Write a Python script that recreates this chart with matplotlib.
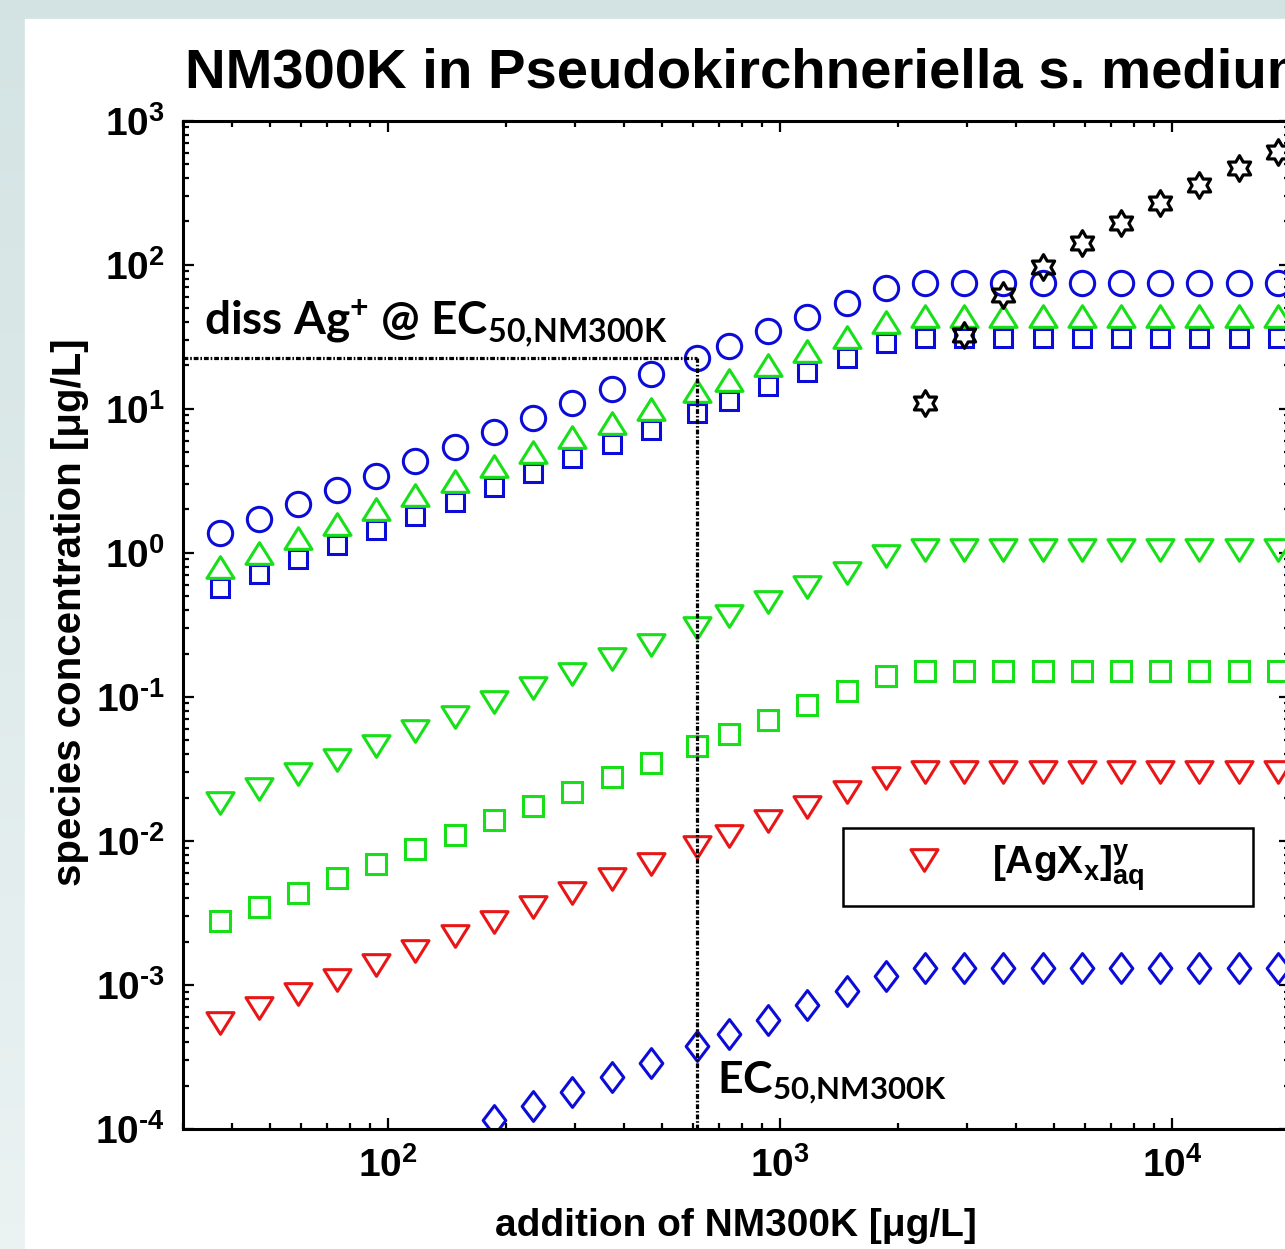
"""NM300K speciation in Pseudokirchneriella medium."""

import numpy as np
import matplotlib

matplotlib.use("Agg")
from matplotlib import pyplot as plt
from matplotlib.path import Path
from matplotlib.ticker import FuncFormatter

# NM300K added [ug/L]; the 13th point is the EC50
nm300k_added = [37.2, 46.8, 58.9, 74.1, 93.3, 117, 148, 186, 234, 295, 372, 468,
                615, 741, 933, 1175, 1479, 1862, 2344, 2951, 3715, 4677, 5888,
                7413, 9333, 11749, 14791, 18621]

ag_diss = [1.37, 1.73, 2.17, 2.74, 3.44, 4.34, 5.46, 6.87, 8.65, 10.9, 13.7, 17.3,
           22.7, 27.4, 34.4, 43.4, 54.6, 68.7, 74.6, 74.6, 74.6, 74.6, 74.6, 74.6,
           74.6, 74.6, 74.6, 74.6]
ag_tri_up = [0.796, 1.00, 1.26, 1.59, 2.00, 2.52, 3.17, 3.99, 5.02, 6.32, 7.96, 10.0,
             13.2, 15.9, 20.0, 25.2, 31.7, 39.9, 44.1, 44.1, 44.1, 44.1, 44.1, 44.1,
             44.1, 44.1, 44.1, 44.1]
ag_free = [0.569, 0.716, 0.902, 1.14, 1.43, 1.80, 2.26, 2.85, 3.59, 4.52, 5.69, 7.16,
           9.42, 11.4, 14.3, 18.0, 22.6, 28.5, 30.9, 30.9, 30.9, 30.9, 30.9, 30.9,
           30.9, 30.9, 30.9, 30.9]
green_tri_dn = [0.0183, 0.0230, 0.0290, 0.0365, 0.0459, 0.0578, 0.0728, 0.0916,
                0.115, 0.145, 0.183, 0.230, 0.303, 0.365, 0.459, 0.578, 0.728, 0.95,
                1.05, 1.05, 1.05, 1.05, 1.05, 1.05, 1.05, 1.05, 1.05, 1.05]
green_sq = [0.00277, 0.00348, 0.00438, 0.00552, 0.00695, 0.00875, 0.0110, 0.0139,
            0.0175, 0.0220, 0.0277, 0.0348, 0.0458, 0.0552, 0.0695, 0.0875, 0.110,
            0.139, 0.151, 0.151, 0.151, 0.151, 0.151, 0.151, 0.151, 0.151, 0.151,
            0.151]
agx_aq = [5.47e-4, 6.89e-4, 8.67e-4, 1.09e-3, 1.37e-3, 1.73e-3, 2.18e-3, 2.74e-3,
          3.45e-3, 4.35e-3, 5.47e-3, 6.89e-3, 9.06e-3, 0.0109, 0.0137, 0.0173,
          0.0218, 0.0274, 0.0303, 0.0303, 0.0303, 0.0303, 0.0303, 0.0303, 0.0303,
          0.0303, 0.0303, 0.0303]
nan = float("nan")
blue_dia = [nan, nan, nan, nan, nan, nan, nan, 1.15e-4, 1.44e-4, 1.81e-4, 2.28e-4,
            2.88e-4, 3.78e-4, 4.56e-4, 5.74e-4, 7.22e-4, 9.09e-4, 1.15e-3, 1.31e-3,
            1.31e-3, 1.31e-3, 1.31e-3, 1.31e-3, 1.31e-3, 1.31e-3, 1.31e-3, 1.31e-3,
            1.31e-3]
solid = [nan, nan, nan, nan, nan, nan, nan, nan, nan, nan, nan, nan, nan, nan, nan,
         nan, nan, nan, 11.0, 32.4, 61.6, 96.5, 142, 195, 268, 357, 469, 606]

EC50 = 615  # ug/L NM300K
DISS_AT_EC50 = 22.7  # ug/L dissolved Ag+

BLUE, GREEN, RED = "#0c0cd8", "#18e018", "#e81616"

plt.rcParams["font.family"] = ["Liberation Sans", "DejaVu Sans"]
plt.rcParams["font.weight"] = "bold"
plt.rcParams["mathtext.default"] = "regular"


def closed(verts):
    verts = list(verts) + [verts[0]]
    return Path(verts, closed=True)


def decade(v, pos):
    e = int(round(np.log10(v)))
    return r"$\mathdefault{10^{%s}}$" % str(e).replace("-", "\u2010")


tri_up = closed([(-1, -0.8), (1, -0.8), (0, 0.8)])
tri_dn = closed([(-1, 0.8), (1, 0.8), (0, -0.8)])
diamond = closed([(0, 1), (0.76, 0), (0, -1), (-0.76, 0)])
ang = np.deg2rad(90 + 30 * np.arange(12))
rad = np.where(np.arange(12) % 2 == 0, 1.0, 1 / np.sqrt(3))
hexagram = closed(list(zip(rad * np.cos(ang), rad * np.sin(ang))))

fig = plt.figure(figsize=(12.85, 12.49), dpi=100)

# screenshot background: pale frame with white panel
bg = fig.add_axes([0, 0, 1, 1], zorder=-10)
grad = np.linspace(0, 1, 256)[:, None, None]
top_c = np.array([0.83, 0.89, 0.89])
bot_c = np.array([0.92, 0.95, 0.95])
bg.imshow(top_c + grad * (bot_c - top_c), aspect="auto", extent=(0, 1, 0, 1))
bg.add_patch(plt.Rectangle((25 / 1285, 0), 1, (1249 - 19) / 1249, color="white"))
bg.set_xlim(0, 1)
bg.set_ylim(0, 1)
bg.axis("off")

ax = fig.add_axes([183 / 1285, 120 / 1249, 1107 / 1285, 1008.3 / 1249])
ax.set_xscale("log")
ax.set_yscale("log")

mew = 2.2
ax.plot(nm300k_added, ag_diss, ls="none", marker="o", ms=17.5, mfc="none", mec=BLUE, mew=mew)
ax.plot(nm300k_added, ag_free, ls="none", marker="s", ms=13.5, mfc="none", mec=BLUE, mew=mew)
ax.plot(nm300k_added, ag_tri_up, ls="none", marker=tri_up, ms=19.5, mfc="none", mec=GREEN, mew=mew)
ax.plot(nm300k_added, green_tri_dn, ls="none", marker=tri_dn, ms=19.5, mfc="none", mec=GREEN, mew=mew)
ax.plot(nm300k_added, green_sq, ls="none", marker="s", ms=14, mfc="none", mec=GREEN, mew=mew)
(agx_line,) = ax.plot(nm300k_added, agx_aq, ls="none", marker=tri_dn, ms=19.5, mfc="none", mec=RED, mew=mew)
ax.plot(nm300k_added, blue_dia, ls="none", marker=diamond, ms=21.5, mfc="none", mec=BLUE, mew=mew)
ax.plot(nm300k_added, solid, ls="none", marker=hexagram, ms=18.5, mfc="none", mec="black", mew=2.3)

dash = dict(color="black", lw=2.3, dashes=[1.5, 0.6, 0.5, 0.6])
ax.plot([30, EC50], [DISS_AT_EC50, DISS_AT_EC50], **dash)
ax.plot([EC50, EC50], [1e-4, DISS_AT_EC50], **dash)

ax.text(34, 32.5, r"diss Ag$^{+}$ @ EC$_{50{,}NM300K}$", family=["Lato", "DejaVu Sans"],
        fontsize=33, fontweight="bold", ha="left", va="baseline")
ax.text(690, 1.8e-4, r"EC$_{50{,}NM300K}$", family=["Lato", "DejaVu Sans"],
        fontsize=32, fontweight="bold", ha="left", va="baseline")

ax.set_xlim(30, 2e4)
ax.set_ylim(1e-4, 1e3)
ax.xaxis.set_major_formatter(FuncFormatter(decade))
ax.yaxis.set_major_formatter(FuncFormatter(decade))
for s in ax.spines.values():
    s.set_linewidth(2.2)
ax.tick_params(which="both", direction="in", top=True, right=True, width=1.6)
ax.tick_params(which="major", length=8, labelsize=28, pad=13)
ax.tick_params(which="minor", length=4.5)

leg = ax.legend([agx_line], [r"$\mathdefault{[AgX_{x}]^{y}_{aq}}$"], loc="upper left",
                bbox_to_anchor=(0.596, 0.217, 0.3706, 0.0815), mode="expand",
                borderaxespad=0, fontsize=28, fancybox=False, framealpha=1,
                edgecolor="black", borderpad=0.35, handlelength=3.5,
                handletextpad=0.0)
leg.get_frame().set_linewidth(1.8)

fig.text(185 / 1285, 1 - 88 / 1249, "NM300K in Pseudokirchneriella s. medium",
         fontsize=40.5, fontweight="bold", ha="left", va="baseline")
fig.text(736 / 1285, 1 - 1226 / 1249, "addition of NM300K [μg/L]", fontsize=28,
         fontweight="bold", ha="center", va="center")
fig.text(70 / 1285, 1 - 612 / 1249, "species concentration [μg/L]", fontsize=29,
         fontweight="bold", ha="center", va="center", rotation=90)

fig.savefig("out.png", dpi=100)
